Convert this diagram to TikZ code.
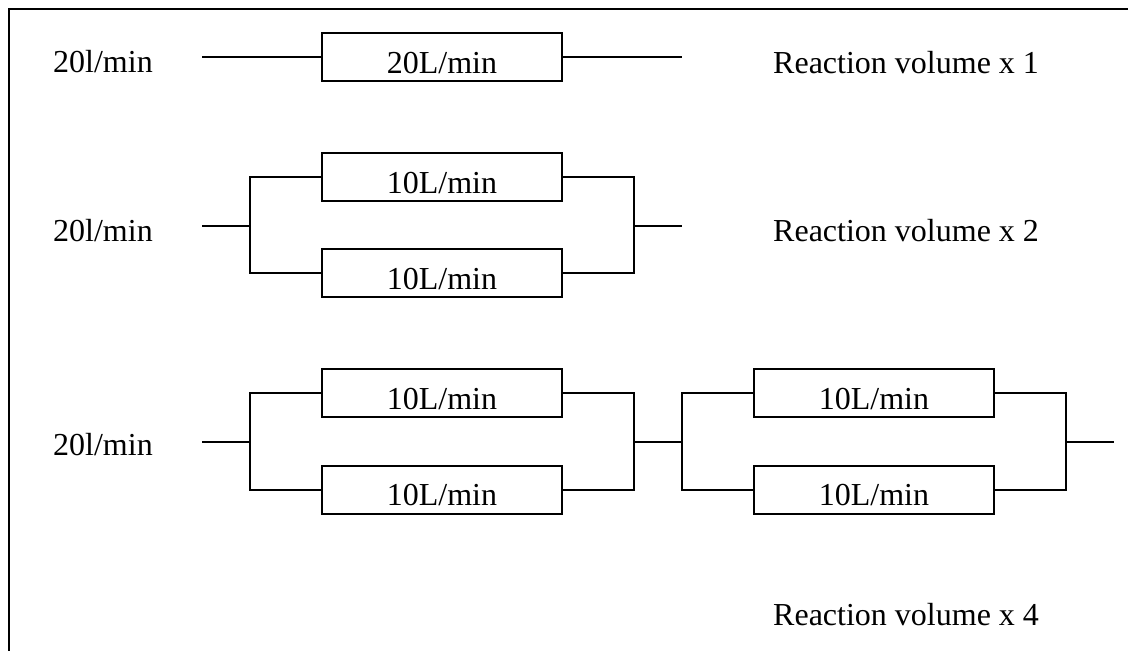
\documentclass[tikz,border=0pt]{standalone}
\usepackage{fontspec}
\setmainfont{Liberation Serif}
\begin{document}
\begin{tikzpicture}[x=1pt,y=-1pt,
  flowbox/.style={draw,line width=1.7pt,minimum width=240pt,inner xsep=0pt,inner ysep=0pt,
    text height=40pt,text depth=8pt,font=\fontsize{32}{36}\selectfont},
  label/.style={anchor=base west,inner sep=0pt,font=\fontsize{32}{36}\selectfont},
  pipe/.style={line width=1.7pt}]
\useasboundingbox (0,0) rectangle (1128,651);
% frame
\draw[line width=2pt] (1128,9.3) -- (9.3,9.3) -- (9.3,651);

% row 1: single reactor
\node[flowbox] (b1) at (442,57.3) {20L/min};
\coordinate (in1) at (202,57.3);
\coordinate (out1) at (682,57.3);
\draw[pipe] (in1) -- (b1.west);
\draw[pipe] (b1.east) -- (out1);
\node[label] (f1) at (53,72.7) {20l/min};
\node[label] (r1) at (773,73.3) {Reaction volume x 1};

% row 2: two reactors in parallel
\node[flowbox] (b2a) at (442,177.3) {10L/min};
\node[flowbox] (b2b) at (442,273.3) {10L/min};
\coordinate (in2) at (202,225.7);
\coordinate (j2l) at (250,225.7);
\coordinate (j2r) at (634,225.7);
\coordinate (out2) at (682,225.7);
\draw[pipe] (in2) -- (j2l);
\draw[pipe] (b2a.west) -| (j2l) |- (b2b.west);
\draw[pipe] (b2a.east) -| (j2r) |- (b2b.east);
\draw[pipe] (j2r) -- (out2);
\node[label] (f2) at (53,241) {20l/min};
\node[label] (r2) at (773,241) {Reaction volume x 2};

% row 3: two parallel pairs in series
\node[flowbox] (b3a) at (442,393.3) {10L/min};
\node[flowbox] (b3b) at (442,489.7) {10L/min};
\node[flowbox] (b3c) at (874,393.3) {10L/min};
\node[flowbox] (b3d) at (874,489.7) {10L/min};
\coordinate (in3) at (202,441.7);
\coordinate (j3l) at (250,441.7);
\coordinate (j3m1) at (634,441.7);
\coordinate (j3m2) at (682,441.7);
\coordinate (j3r) at (1066,441.7);
\coordinate (out3) at (1114,441.7);
\draw[pipe] (in3) -- (j3l);
\draw[pipe] (b3a.west) -| (j3l) |- (b3b.west);
\draw[pipe] (b3a.east) -| (j3m1) |- (b3b.east);
\draw[pipe] (j3m1) -- (j3m2);
\draw[pipe] (b3c.west) -| (j3m2) |- (b3d.west);
\draw[pipe] (b3c.east) -| (j3r) |- (b3d.east);
\draw[pipe] (j3r) -- (out3);
\node[label] (f3) at (53,455) {20l/min};
\node[label] (r3) at (773,625) {Reaction volume x 4};
\end{tikzpicture}
\end{document}
